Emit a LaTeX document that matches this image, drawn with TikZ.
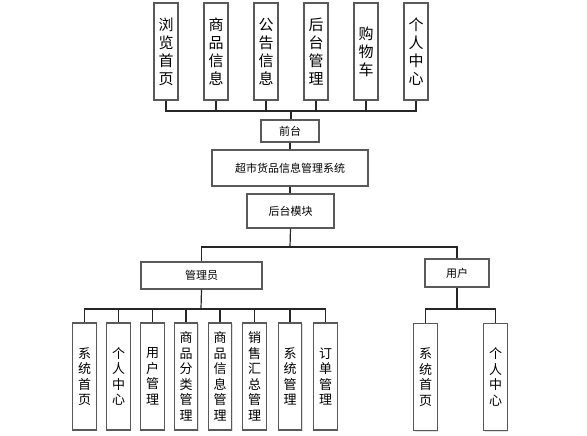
\documentclass[tikz,border=0pt]{standalone}
\usepackage{fontspec}
\setmainfont{Noto Sans CJK SC}
\usetikzlibrary{shadows}
\begin{document}
\begin{tikzpicture}[x=1pt,y=-1pt,
  box/.style={draw=black!65, line width=1.1pt, fill=white, inner sep=0pt, align=center,
     drop shadow={opacity=0.25, shadow xshift=1pt, shadow yshift=-1pt}},
  vbig/.style={box, minimum width=24pt, minimum height=97pt, font=\fontsize{15}{18}\selectfont},
  vsmall/.style={box, minimum width=23.5pt, minimum height=107pt, font=\fontsize{13}{15.5}\selectfont},
  hbox/.style={box, font=\fontsize{11}{12}\selectfont},
  conn/.style={draw=black!85, line width=1.2pt}]
\useasboundingbox (0,0) rectangle (587,436);
% top row
\node[vbig] (t1) at (166,51.5) {浏\\览\\首\\页};
\node[vbig] (t2) at (216,51.5) {商\\品\\信\\息};
\node[vbig] (t3) at (266,51.5) {公\\告\\信\\息};
\node[vbig] (t4) at (316,51.5) {后\\台\\管\\理};
\node[vbig] (t5) at (366,51.5) {购\\物\\车};
\node[vbig] (t6) at (416,51.5) {个\\人\\中\\心};
% middle
\node[hbox, minimum width=58pt, minimum height=22pt] (qt) at (290,131) {前台};
\node[hbox, minimum width=156pt, minimum height=36pt] (sys) at (290,168) {超市货品信息管理系统};
\node[hbox, minimum width=87pt, minimum height=34pt] (ht) at (290.5,211) {后台模块};
\node[hbox, minimum width=121pt, minimum height=27pt] (adm) at (201.5,275.5) {管理员};
\node[hbox, minimum width=64pt, minimum height=28pt] (usr) at (457,273) {用户};
% admin children
\node[vsmall] (a1) at (84.5,376.5) {系\\统\\首\\页};
\node[vsmall] (a2) at (118.5,376.5) {个\\人\\中\\心};
\node[vsmall] (a3) at (152.5,376.5) {用\\户\\管\\理};
\node[vsmall] (a4) at (186,376.5) {商\\品\\分\\类\\管\\理};
\node[vsmall] (a5) at (220,376.5) {商\\品\\信\\息\\管\\理};
\node[vsmall] (a6) at (254.5,376.5) {销\\售\\汇\\总\\管\\理};
\node[vsmall] (a7) at (290,376.5) {系\\统\\管\\理};
\node[vsmall] (a8) at (325.5,376.5) {订\\单\\管\\理};
% user children
\node[vsmall] (u1) at (425.5,377) {系\\统\\首\\页};
\node[vsmall] (u2) at (495.5,377) {个\\人\\中\\心};
% bus coordinates
\coordinate (b1) at (291,111);
\coordinate (b2) at (290,247);
\coordinate (b3) at (201,309);
\coordinate (b4) at (457,309);
% connectors
\foreach \n in {t1,t2,t3,t4,t5,t6} \draw[conn] (\n.south) |- (b1);
\draw[conn] (b1) -- (b1 |- qt.north);
\draw[conn] (qt.south) -- (qt.south |- sys.north);
\draw[conn] (sys.south) -- (sys.south |- ht.north);
\draw[conn] (ht.south) -- (b2);
\draw[conn] (b2) -| (adm.north);
\draw[conn] (b2) -| (usr.north);
\draw[conn] (adm.south) -- (b3);
\foreach \n in {a1,a2,a3,a4,a5,a6,a7,a8} \draw[conn] (b3) -| (\n.north);
\draw[conn] (usr.south) -- (b4);
\foreach \n in {u1,u2} \draw[conn] (b4) -| (\n.north);
\end{tikzpicture}
\end{document}
